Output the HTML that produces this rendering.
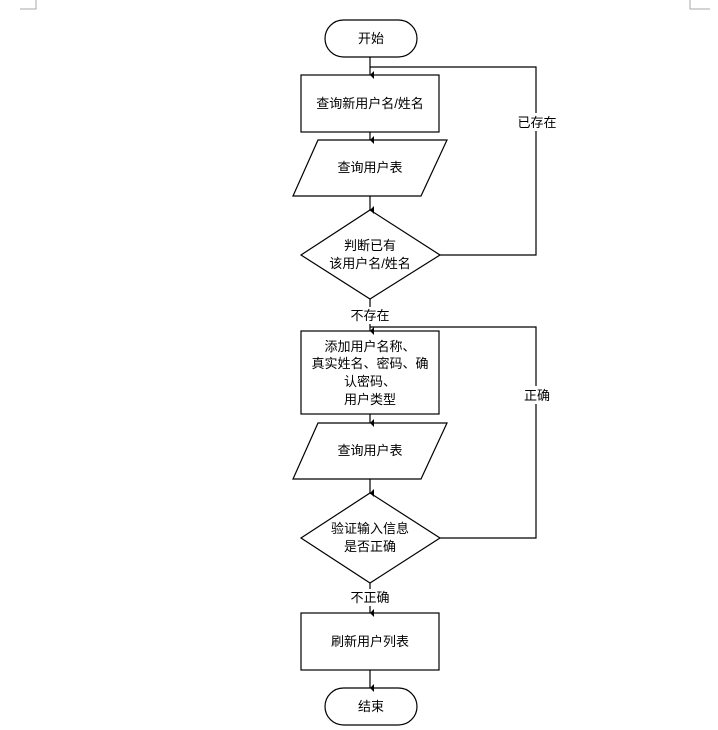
<!DOCTYPE html>
<html><head><meta charset="utf-8"><style>
html,body{margin:0;padding:0;background:#fff;}
svg{display:block;}
text{font-family:"Liberation Sans","Noto Sans CJK SC",sans-serif;font-size:13px;fill:#000;}
</style></head><body>
<svg width="718" height="730" viewBox="0 0 718 730" xmlns="http://www.w3.org/2000/svg">
<defs>
<marker id="a" markerWidth="8" markerHeight="8" refX="4" refY="6" orient="auto" markerUnits="userSpaceOnUse">
<path d="M0,2 L4,6 L8,2 Z" fill="#000"/>
</marker>
</defs>
<g stroke="#aaa" stroke-width="1" fill="none">
<path d="M36,0 V9 H20"/><path d="M690,0 V9 H710"/>
</g>
<g stroke="#000" stroke-width="1.2" fill="none">
<!-- shapes -->
<rect x="325" y="20" width="92" height="37" rx="18.5"/>
<rect x="301" y="75" width="138" height="57"/>
<polygon points="318,140 447,140 421,196 293,196"/>
<polygon points="370,210 440,255 370,299 301,255"/>
<rect x="301" y="331" width="138" height="83"/>
<polygon points="318,423 447,423 421,479 293,479"/>
<polygon points="370,493 440,538 370,583 301,538"/>
<rect x="301" y="613" width="138" height="57"/>
<rect x="325" y="688" width="92" height="37" rx="18.5"/>
<!-- connectors -->
<line x1="370" y1="57" x2="370" y2="75" marker-end="url(#a)"/>
<line x1="370" y1="132" x2="370" y2="140" marker-end="url(#a)"/>
<line x1="370" y1="196" x2="370" y2="210" marker-end="url(#a)"/>
<line x1="370" y1="299" x2="370" y2="331" marker-end="url(#a)"/>
<line x1="370" y1="414" x2="370" y2="423" marker-end="url(#a)"/>
<line x1="370" y1="479" x2="370" y2="493" marker-end="url(#a)"/>
<line x1="370" y1="583" x2="370" y2="613" marker-end="url(#a)"/>
<line x1="370" y1="670" x2="370" y2="688" marker-end="url(#a)"/>
<polyline points="440,255 536,255 536,67 370,67"/>
<polyline points="440,538 536,538 536,327 370,327"/>
</g>
<rect x="515" y="113" width="44" height="18" fill="#fff"/>
<rect x="521" y="386" width="32" height="18" fill="#fff"/>
<rect x="347" y="307" width="46" height="17" fill="#fff"/>
<rect x="347" y="589" width="46" height="17" fill="#fff"/>
<g text-anchor="middle">
<text x="371" y="43">开始</text>
<text x="370" y="108">查询新用户名/姓名</text>
<text x="370" y="172">查询用户表</text>
<text x="370" y="250">判断已有</text>
<text x="370" y="268">该用户名/姓名</text>
<text x="537" y="127">已存在</text>
<text x="370" y="320">不存在</text>
<text x="370" y="351">添加用户名称、</text>
<text x="370" y="368">真实姓名、密码、确</text>
<text x="370" y="386">认密码、</text>
<text x="370" y="404">用户类型</text>
<text x="537" y="400">正确</text>
<text x="370" y="455">查询用户表</text>
<text x="370" y="533">验证输入信息</text>
<text x="370" y="551">是否正确</text>
<text x="370" y="602">不正确</text>
<text x="370" y="646">刷新用户列表</text>
<text x="371" y="711">结束</text>
</g>
</svg>
</body></html>
